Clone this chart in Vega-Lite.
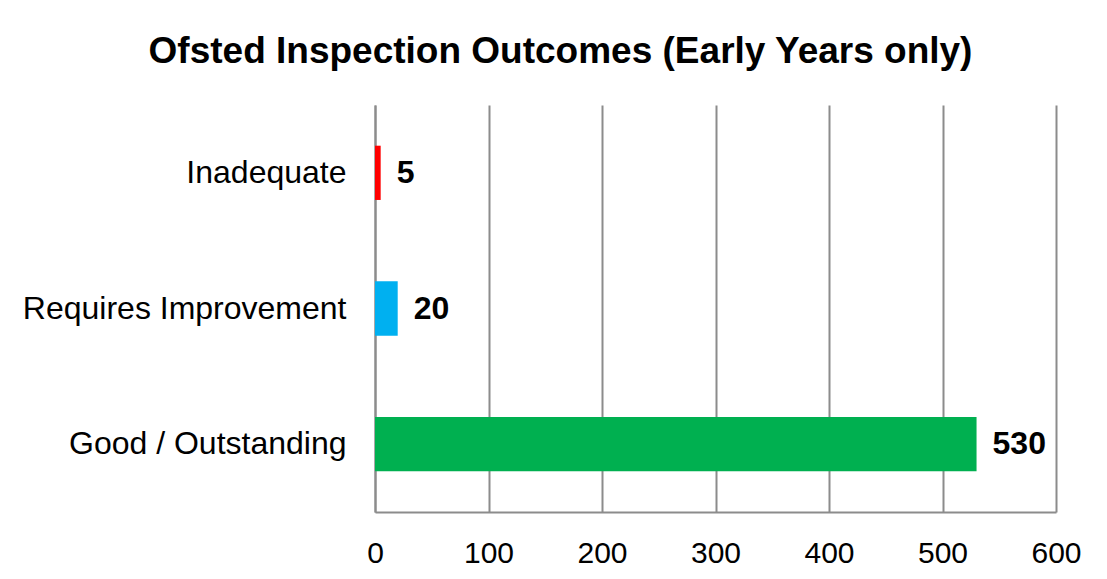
{
  "$schema": "https://vega.github.io/schema/vega-lite/v6.json",
  "autosize": {"type": "none"},
  "padding": {"left": 375, "top": 105, "right": 51, "bottom": 67},
  "width": 681,
  "height": 407,
  "background": "white",
  "title": {
    "text": "Ofsted Inspection Outcomes (Early Years only)",
    "font": "Liberation Sans",
    "fontSize": 37,
    "fontWeight": "bold",
    "color": "black",
    "anchor": "middle",
    "baseline": "alphabetic",
    "offset": 5,
    "dx": -155
  },
  "data": {
    "values": [
      {"outcome": "Inadequate", "count": 5},
      {"outcome": "Requires Improvement", "count": 20},
      {"outcome": "Good / Outstanding", "count": 530}
    ]
  },
  "encoding": {
    "y": {
      "field": "outcome",
      "type": "nominal",
      "sort": ["Inadequate", "Requires Improvement", "Good / Outstanding"],
      "scale": {"paddingInner": 0.6, "paddingOuter": 0.3},
      "axis": {
        "title": null,
        "ticks": false,
        "grid": false,
        "domainColor": "#8c8c8c",
        "domainWidth": 2,
        "labelFont": "Liberation Sans",
        "labelFontSize": 32,
        "labelColor": "black",
        "labelPadding": 29,
        "labelLimit": 0
      }
    },
    "x": {
      "field": "count",
      "type": "quantitative",
      "scale": {"domain": [0, 600], "nice": false},
      "axis": {
        "title": null,
        "values": [0, 100, 200, 300, 400, 500, 600],
        "ticks": false,
        "grid": true,
        "gridColor": "#8c8c8c",
        "gridWidth": 2,
        "domainColor": "#8c8c8c",
        "domainWidth": 2,
        "labelFont": "Liberation Sans",
        "labelFontSize": 30,
        "labelColor": "black",
        "labelPadding": 26,
        "labelFlush": false
      }
    }
  },
  "layer": [
    {
      "mark": {"type": "bar"},
      "encoding": {
        "color": {
          "field": "outcome",
          "type": "nominal",
          "scale": {
            "domain": ["Inadequate", "Requires Improvement", "Good / Outstanding"],
            "range": ["#FF0000", "#00B0F0", "#00B050"]
          },
          "legend": null
        }
      }
    },
    {
      "mark": {
        "type": "text",
        "align": "left",
        "baseline": "middle",
        "dx": 16,
        "font": "Liberation Sans",
        "fontSize": 32,
        "fontWeight": "bold",
        "color": "black"
      },
      "encoding": {
        "text": {"field": "count", "type": "quantitative"}
      }
    }
  ],
  "config": {
    "view": {"stroke": null}
  }
}
